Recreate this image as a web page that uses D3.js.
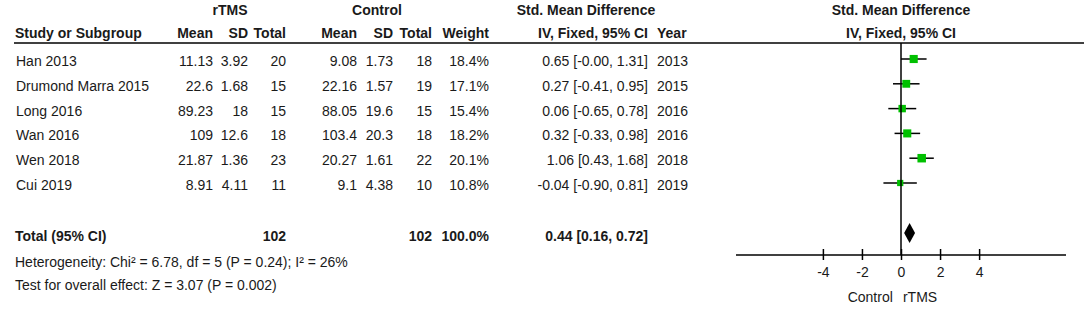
<!DOCTYPE html>
<html>
  <head>
    <meta charset="utf-8">
    <title>Forest Plot</title>
    <script src="https://d3js.org/d3.v7.min.js"></script>
    <style>
      body { margin: 0; background: #fff; }
      .forest { font-family: "Liberation Sans", Arial, sans-serif; font-size: 14px; fill: #1a1a1a; }
      .hdr { font-weight: bold; }
      .axis path, .axis line { stroke: #000; stroke-width: 1.5; }
      .axis text { font-size: 14px; font-family: "Liberation Sans", Arial, sans-serif; }
    </style>
  </head>
  <body>
    <svg class="forest"></svg>
    <script>
      // study data
      const studies = ["Han 2013", "Drumond Marra 2015", "Long 2016", "Wan 2016", "Wen 2018", "Cui 2019"];
      const rMean = ["11.13", "22.6", "89.23", "109", "21.87", "8.91"];
      const rSD = ["3.92", "1.68", "18", "12.6", "1.36", "4.11"];
      const rN = [20, 15, 15, 18, 23, 11];
      const cMean = ["9.08", "22.16", "88.05", "103.4", "20.27", "9.1"];
      const cSD = ["1.73", "1.57", "19.6", "20.3", "1.61", "4.38"];
      const cN = [18, 19, 15, 18, 22, 10];
      const weight = [18.4, 17.1, 15.4, 18.2, 20.1, 10.8];
      const smd = [0.65, 0.27, 0.06, 0.32, 1.06, -0.04];
      const lower = [-0.00, -0.41, -0.65, -0.33, 0.43, -0.90];
      const upper = [1.31, 0.95, 0.78, 0.98, 1.68, 0.81];
      const years = [2013, 2015, 2016, 2016, 2018, 2019];

      // pooled result
      const total = { rN: 102, cN: 102, weight: 100.0, est: 0.44, lo: 0.16, hi: 0.72 };
      const footnotes = [
        "Heterogeneity: Chi\u00b2 = 6.78, df = 5 (P = 0.24); I\u00b2 = 26%",
        "Test for overall effect: Z = 3.07 (P = 0.002)"
      ];
      const ticks = [-4, -2, 0, 2, 4];
      const favours = ["Control", "rTMS"];

      const W = 1084, H = 309;
      const svg = d3.select(".forest").attr("width", W).attr("height", H);

      const rows = studies.map((s, i) => ({ study: s, i }));
      const y = d3.scalePoint().domain(d3.range(studies.length)).range([59, 183]);
      const yTotal = 233, yAxis = 255;

      const x = d3.scaleLinear().domain([-8.45, 8.45]).range([736, 1066]);
      const size = d3.scaleSqrt().domain([0, 20.1]).range([0, 8.5]);

      // keep hyphen minus and signed zero like the original
      const f2 = v => (v < 0 || Object.is(v, -0) ? "-" : "") + Math.abs(v).toFixed(2);
      const ci = (e, l, h) => f2(e) + " [" + f2(l) + ", " + f2(h) + "]";

      // column layout (right edges)
      const cols = [
        { x: 213, get: i => rMean[i] },
        { x: 248, get: i => rSD[i] },
        { x: 286, get: i => rN[i] },
        { x: 357, get: i => cMean[i] },
        { x: 393, get: i => cSD[i] },
        { x: 432, get: i => cN[i] },
        { x: 489, get: i => weight[i].toFixed(1) + "%" },
        { x: 648, get: i => ci(smd[i], lower[i], upper[i]) }
      ];

      // headers
      const h1 = 15, h2 = 38;
      svg.append("text").attr("class", "hdr").attr("x", 230).attr("y", h1).attr("text-anchor", "middle").text("rTMS");
      svg.append("text").attr("class", "hdr").attr("x", 377).attr("y", h1).attr("text-anchor", "middle").text("Control");
      svg.append("text").attr("class", "hdr").attr("x", 586).attr("y", h1).attr("text-anchor", "middle").text("Std. Mean Difference");
      svg.append("text").attr("class", "hdr").attr("x", 901).attr("y", h1).attr("text-anchor", "middle").text("Std. Mean Difference");
      svg.append("text").attr("class", "hdr").attr("x", 15).attr("y", h2).text("Study or Subgroup");
      const hdr2 = ["Mean", "SD", "Total", "Mean", "SD", "Total", "Weight", "IV, Fixed, 95% CI"];
      hdr2.forEach((t, k) => {
        svg.append("text").attr("class", "hdr").attr("x", cols[k].x).attr("y", h2).attr("text-anchor", "end").text(t);
      });
      svg.append("text").attr("class", "hdr").attr("x", 657).attr("y", h2).text("Year");
      svg.append("text").attr("class", "hdr").attr("x", 901).attr("y", h2).attr("text-anchor", "middle").text("IV, Fixed, 95% CI");
      svg.append("line").attr("x1", 14).attr("x2", W).attr("y1", 43).attr("y2", 43)
        .attr("stroke", "#000").attr("stroke-width", 1.5);

      // study rows (text sits a little below the marker line)
      const row = svg.selectAll(".row").data(rows).enter().append("g").attr("class", "row");
      row.append("text").attr("x", 16).attr("y", d => y(d.i) + 7).text(d => d.study);
      cols.forEach(c => {
        row.append("text").attr("x", c.x).attr("y", d => y(d.i) + 7).attr("text-anchor", "end").text(d => c.get(d.i));
      });
      row.append("text").attr("x", 657).attr("y", d => y(d.i) + 7).text(d => years[d.i]);

      // total row
      const tRow = [
        [286, total.rN], [432, total.cN], [489, total.weight.toFixed(1) + "%"],
        [648, ci(total.est, total.lo, total.hi)]
      ];
      svg.append("text").attr("class", "hdr").attr("x", 15).attr("y", yTotal + 8).text("Total (95% CI)");
      tRow.forEach(([cx, t]) => {
        svg.append("text").attr("class", "hdr").attr("x", cx).attr("y", yTotal + 8).attr("text-anchor", "end").text(t);
      });
      footnotes.forEach((t, k) => {
        svg.append("text").attr("x", 15).attr("y", 267 + k * 23).text(t);
      });

      // null line
      svg.append("line").attr("x1", x(0)).attr("x2", x(0)).attr("y1", 43).attr("y2", yAxis)
        .attr("stroke", "#000").attr("stroke-width", 1.5);

      // CI lines and squares
      row.append("line")
        .attr("x1", d => x(lower[d.i])).attr("x2", d => x(upper[d.i]))
        .attr("y1", d => y(d.i)).attr("y2", d => y(d.i))
        .attr("stroke", "#000").attr("stroke-width", 1.5);
      row.append("rect")
        .attr("x", d => x(smd[d.i]) - size(weight[d.i]) / 2)
        .attr("y", d => y(d.i) - size(weight[d.i]) / 2)
        .attr("width", d => size(weight[d.i]))
        .attr("height", d => size(weight[d.i]))
        .attr("fill", "#00c000");

      // diamond
      const dh = 10;
      svg.append("path")
        .attr("d", `M${x(total.lo)},${yTotal} L${x(total.est)},${yTotal - dh} L${x(total.hi)},${yTotal} L${x(total.est)},${yTotal + dh} Z`)
        .attr("fill", "#000");

      // axis
      const axis = svg.append("g").attr("class", "axis")
        .attr("transform", `translate(0,${yAxis})`)
        .call(d3.axisBottom(x).tickValues(ticks).tickSize(6).tickSizeOuter(0).tickFormat(d => String(d)));
      axis.selectAll(".tick line").attr("y1", -6).attr("y2", 5);
      axis.selectAll(".tick text").attr("y", 12).attr("fill", "#1a1a1a");
      axis.select(".domain").attr("d", `M${x.range()[0]},0H${x.range()[1]}`);

      svg.append("text").attr("x", x(-0.42)).attr("y", 302).attr("text-anchor", "end").text(favours[0]);
      svg.append("text").attr("x", x(0.1)).attr("y", 302).text(favours[1]);
    </script>
  </body>
</html>
